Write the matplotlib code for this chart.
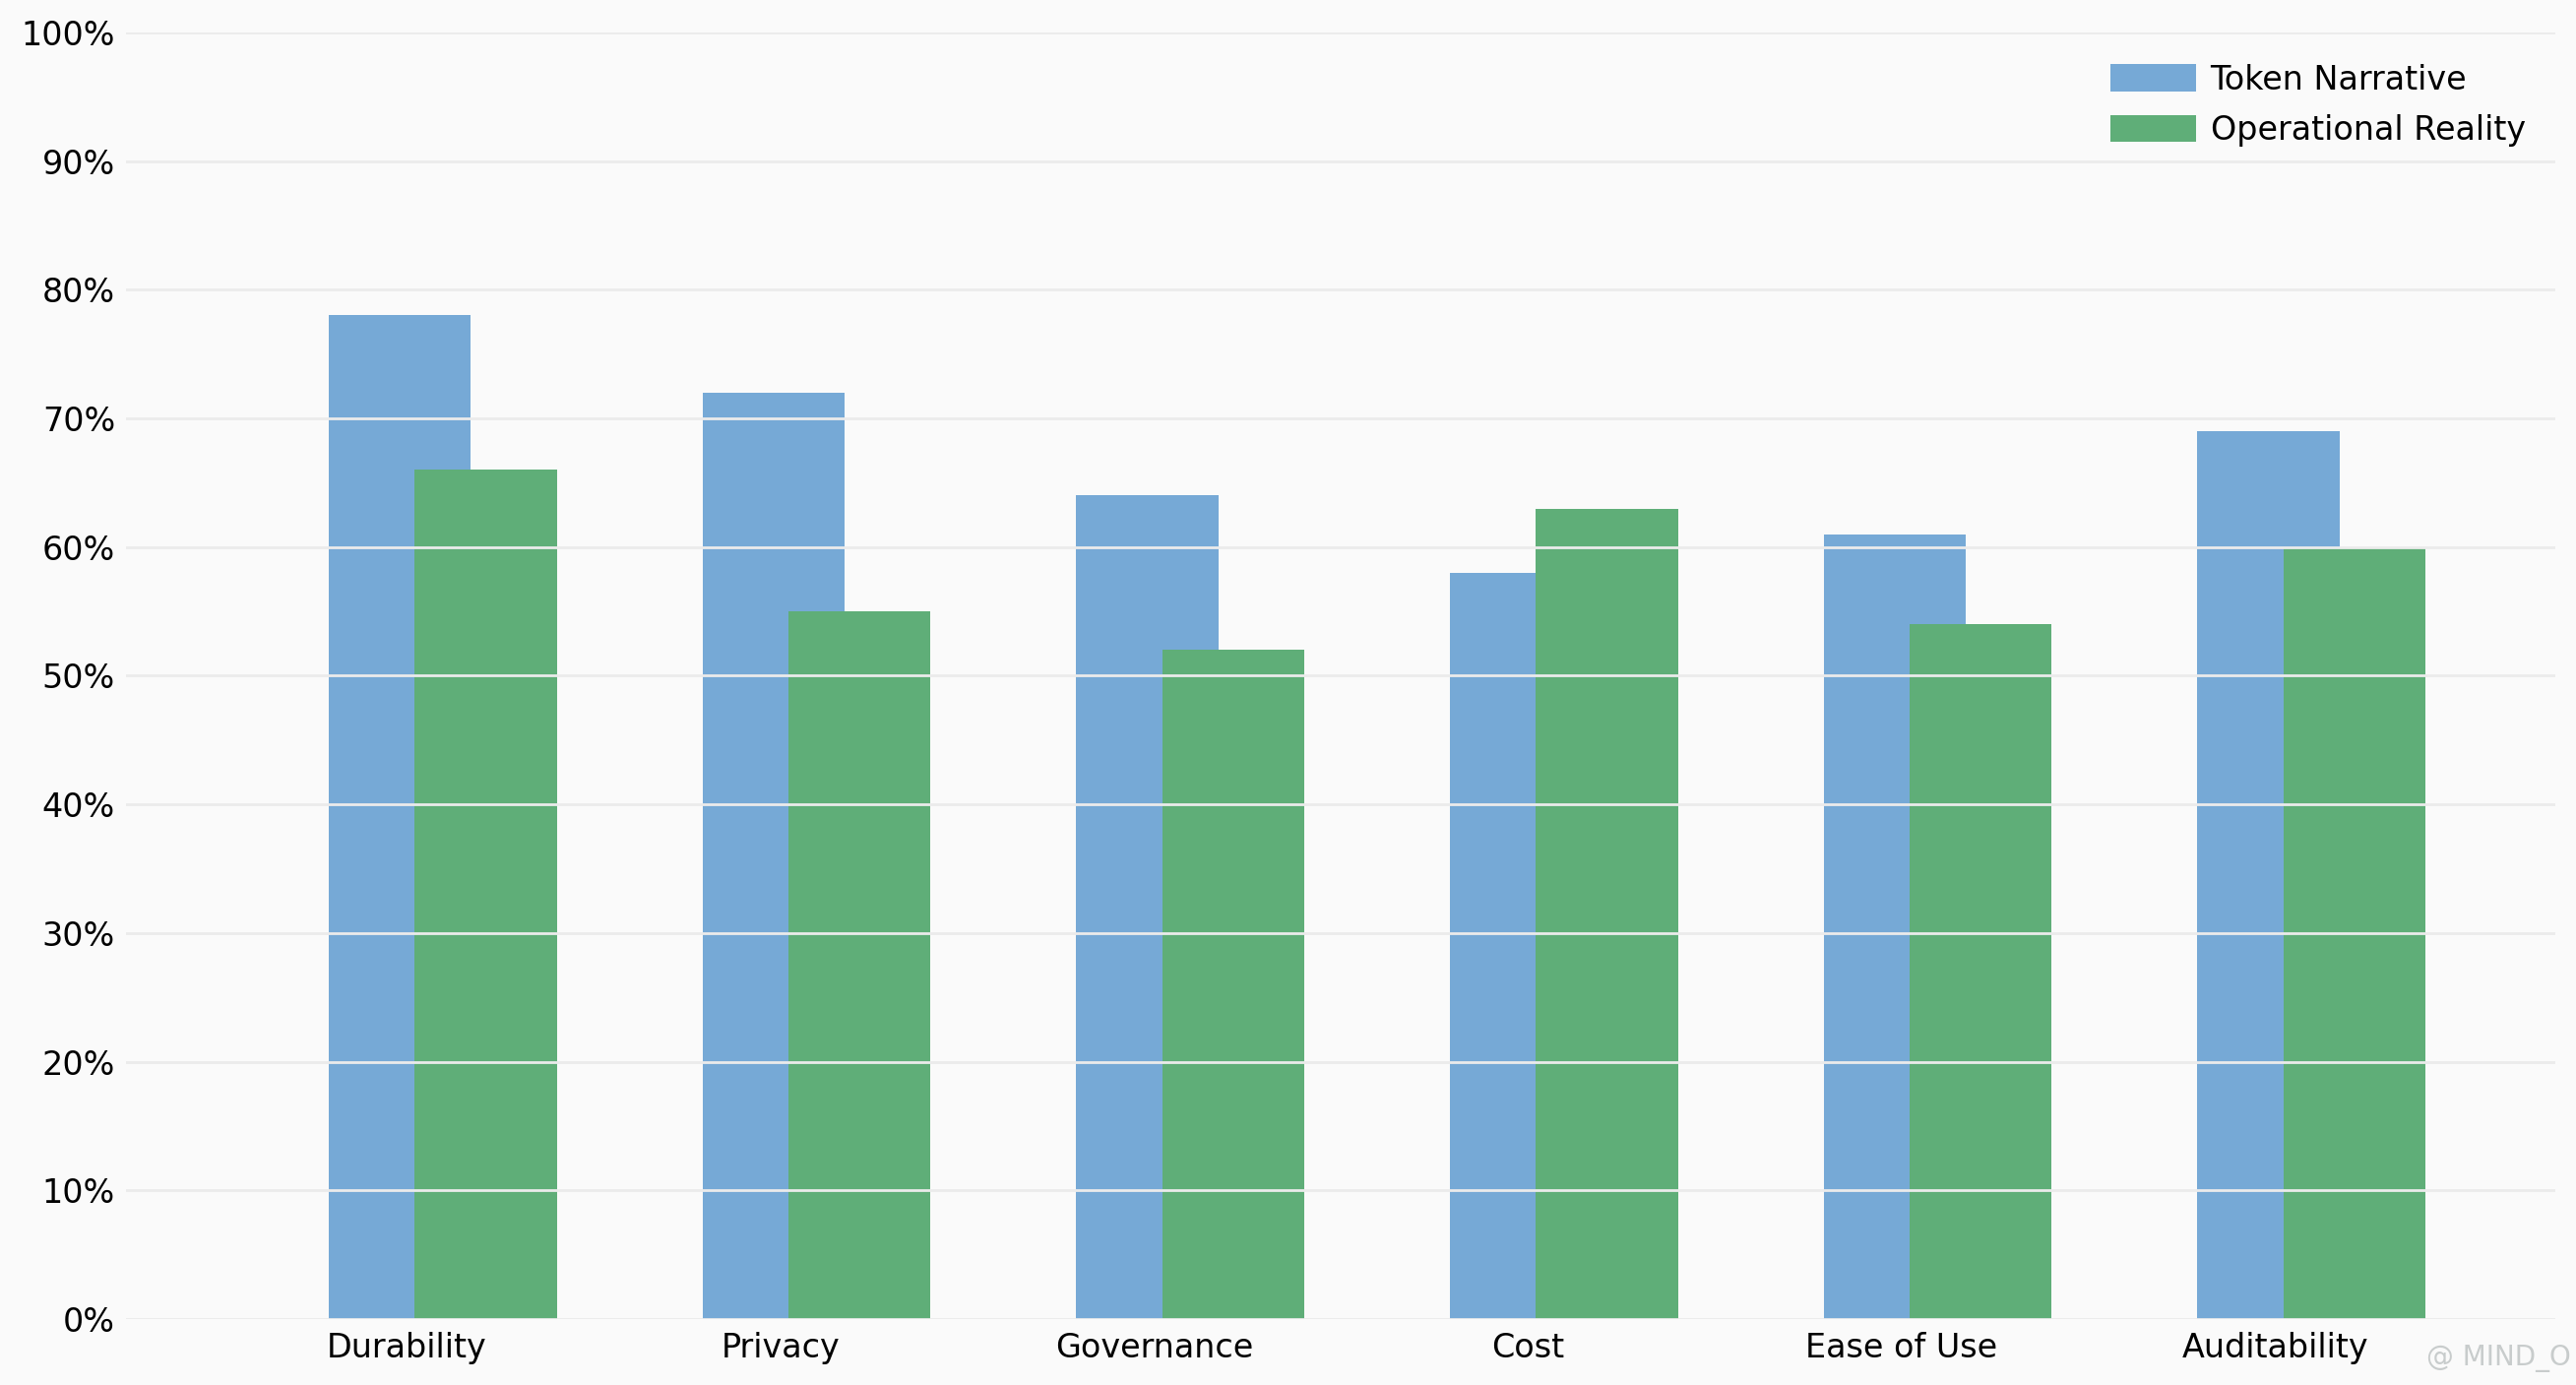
import matplotlib.pyplot as plt
import numpy as np
from matplotlib.ticker import PercentFormatter

categories = ["Durability", "Privacy", "Governance", "Cost", "Ease of Use", "Auditability"]
token_narrative = [78, 72, 64, 58, 61, 69]
operational_reality = [66, 55, 52, 63, 54, 60]
y_ticks = list(range(0, 101, 10))

BLUE = "#76A9D6"
GREEN = "#5FAE78"
BG = "#FAFAFA"

fig = plt.figure(figsize=(13.085, 7.035), dpi=200, facecolor=BG)
ax = fig.add_axes([0.049, 0.0476, 0.943, 0.929])
ax.set_facecolor(BG)

x = np.arange(len(categories))
width = 0.38
ax.bar(x - 0.018, token_narrative, width, color=BLUE, edgecolor="none",
       label="Token Narrative", zorder=1)
ax.bar(x + 0.212, operational_reality, width, color=GREEN, edgecolor="none",
       label="Operational Reality", zorder=2)

ax.set_ylim(0, 100)
ax.set_xlim(-0.75, 5.75)
ax.set_yticks(y_ticks)
ax.yaxis.set_major_formatter(PercentFormatter(decimals=0))
ax.set_xticks(x)
ax.set_xticklabels(categories)
ax.tick_params(axis="both", length=0, labelsize=12, colors="black")
ax.tick_params(axis="x", pad=4.5)
ax.tick_params(axis="y", pad=4)

ax.set_axisbelow(False)
ax.yaxis.grid(True, color="#EBEBEB", linewidth=1.0, zorder=3)
ax.xaxis.grid(False)
for spine in ax.spines.values():
    spine.set_visible(False)

ax.legend(loc="upper right", bbox_to_anchor=(0.9985, 0.996), frameon=False,
          fontsize=12, handlelength=2.6, handleheight=0.9,
          labelspacing=0.55, handletextpad=0.45, borderaxespad=0.4)

fig.text(0.998, 0.009, "@ MIND_O", ha="right", va="bottom",
         fontsize=10, color="#C8CCCC")

fig.savefig("out.png", dpi=200, facecolor=BG)
